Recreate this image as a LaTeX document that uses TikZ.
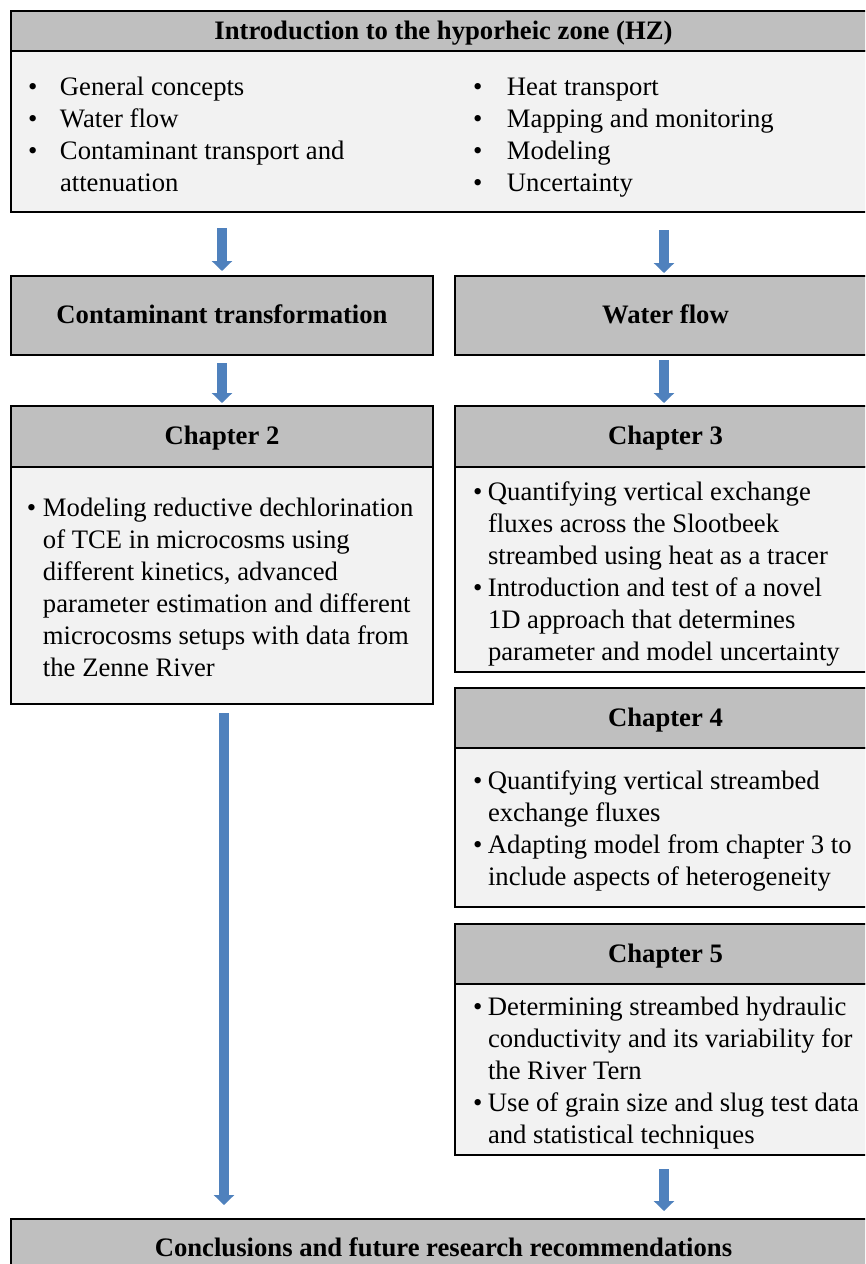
\documentclass[tikz,border=0pt]{standalone}
\usepackage{fontspec}
\setmainfont{Liberation Serif}
\usetikzlibrary{arrows.meta}
\definecolor{hdrgray}{HTML}{BFBFBF}
\definecolor{bodygray}{HTML}{F2F2F2}
\definecolor{flowblue}{HTML}{4F81BD}
% bullet with a hanging indent of the given width; every line carries a strut
\newcommand\bitem[1]{\strut\makebox[#1][l]{•}}
\newcommand\bcont[1]{\strut\hspace*{#1}}
\tikzset{
  box/.style={draw=black, line width=2pt, rectangle, inner sep=0pt, outer sep=0pt, anchor=north west},
  hdr/.style={box, fill=hdrgray, text height=20pt, text depth=4pt, font=\fontsize{26.67}{32}\selectfont\bfseries},
  bodybox/.style={box, fill=bodygray},
  txt/.style={inner sep=0pt, outer sep=0pt, align=left, anchor=west, font=\fontsize{26.67}{32}\selectfont},
  flow/.style={draw=flowblue, line width=10pt, -{Triangle[width=20pt,length=10pt]}}
}
\begin{document}
\begin{tikzpicture}[x=1pt,y=-1pt]
\useasboundingbox (0,0) rectangle (865,1264);
\clip (0,0) rectangle (865,1264);

% introduction block
\node[hdr, minimum width=865pt, minimum height=40pt] (introh) at (11,11) {Introduction to the hyporheic zone (HZ)};
\node[bodybox, minimum width=865pt, minimum height=161pt] (introb) at (11,51) {};
\node[txt] (introl) at ([xshift=17pt,yshift=-6pt]introb.west)
  {\bitem{32pt}General concepts\\
   \bitem{32pt}Water flow\\
   \bitem{32pt}Contaminant transport and\\
   \bcont{32pt}attenuation};
\node[txt] (intror) at ([xshift=462pt,yshift=-6pt]introb.west)
  {\bitem{34pt}Heat transport\\
   \bitem{34pt}Mapping and monitoring\\
   \bitem{34pt}Modeling\\
   \bitem{34pt}Uncertainty};

% the two research lines
\node[hdr, minimum width=422pt, minimum height=79pt] (ct) at (11,276) {Contaminant transformation};
\node[hdr, minimum width=421pt, minimum height=79pt] (wf) at (455,276) {Water flow};

% chapter 2
\node[hdr, minimum width=422pt, minimum height=61pt] (ch2h) at (11,406) {Chapter 2};
\node[bodybox, minimum width=422pt, minimum height=237pt] (ch2b) at (11,467) {};
\node[txt] (ch2t) at ([xshift=16pt,yshift=-5pt]ch2b.west)
  {\bitem{16pt}Modeling reductive dechlorination\\
   \bcont{16pt}of TCE in microcosms using\\
   \bcont{16pt}different kinetics, advanced\\
   \bcont{16pt}parameter estimation and different\\
   \bcont{16pt}microcosms setups with data from\\
   \bcont{16pt}the Zenne River};

% chapter 3
\node[hdr, minimum width=421pt, minimum height=61pt] (ch3h) at (455,406) {Chapter 3};
\node[bodybox, minimum width=421pt, minimum height=205pt] (ch3b) at (455,467) {};
\node[txt] (ch3t) at ([xshift=18pt,yshift=-5pt]ch3b.west)
  {\bitem{15pt}Quantifying vertical exchange\\
   \bcont{15pt}fluxes across the Slootbeek\\
   \bcont{15pt}streambed using heat as a tracer\\
   \bitem{15pt}Introduction and test of a novel\\
   \bcont{15pt}1D approach that determines\\
   \bcont{15pt}parameter and model uncertainty};

% chapter 4
\node[hdr, minimum width=421pt, minimum height=60pt] (ch4h) at (455,688) {Chapter 4};
\node[bodybox, minimum width=421pt, minimum height=159pt] (ch4b) at (455,748) {};
\node[txt] (ch4t) at ([xshift=18pt,yshift=-4pt]ch4b.west)
  {\bitem{15pt}Quantifying vertical streambed\\
   \bcont{15pt}exchange fluxes\\
   \bitem{15pt}Adapting model from chapter 3 to\\
   \bcont{15pt}include aspects of heterogeneity};

% chapter 5
\node[hdr, minimum width=421pt, minimum height=60pt] (ch5h) at (455,924) {Chapter 5};
\node[bodybox, minimum width=421pt, minimum height=171pt] (ch5b) at (455,984) {};
\node[txt] (ch5t) at ([xshift=18pt,yshift=-4pt]ch5b.west)
  {\bitem{15pt}Determining streambed hydraulic\\
   \bcont{15pt}conductivity and its variability for\\
   \bcont{15pt}the River Tern\\
   \bitem{15pt}Use of grain size and slug test data\\
   \bcont{15pt}and statistical techniques};

% conclusions
\node[hdr, minimum width=865pt, minimum height=58pt] (concl) at (11,1219) {Conclusions and future research recommendations};

% flow arrows
\draw[flow, shorten <=16pt, shorten >=5pt] (introb.south -| ct.north) -- (ct.north);
\draw[flow, shorten <=18pt, shorten >=3pt] ([xshift=-1.5pt]introb.south -| wf.north) -- ([xshift=-1.5pt]wf.north);
\draw[flow, shorten <=8pt, shorten >=3pt] (ct.south) -- (ch2h.north);
\draw[flow, shorten <=5pt, shorten >=3pt] ([xshift=-1.5pt]wf.south) -- ([xshift=-1.5pt]ch3h.north);
\draw[flow, shorten <=9pt, shorten >=14pt] ([xshift=2pt]ch2b.south) -- ([xshift=2pt]ch2b.south |- concl.north);
\draw[flow, shorten <=14pt, shorten >=8pt] ([xshift=-1.5pt]ch5b.south) -- ([xshift=-1.5pt]ch5b.south |- concl.north);
\end{tikzpicture}
\end{document}
